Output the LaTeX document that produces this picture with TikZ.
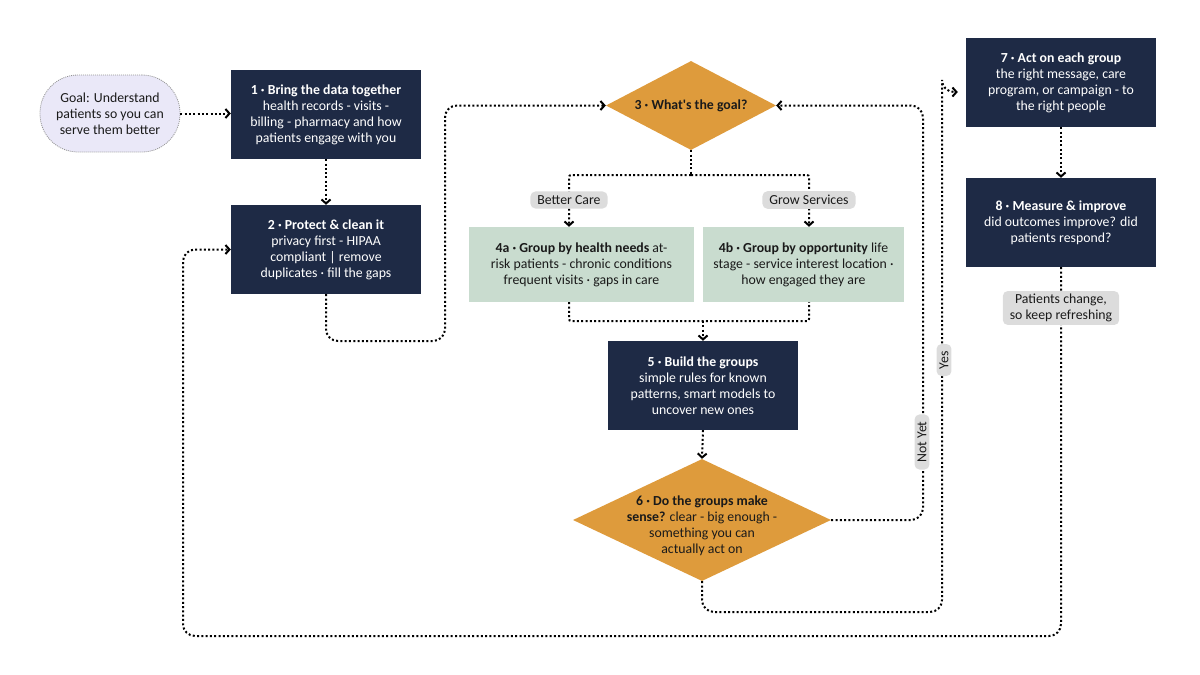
\documentclass[tikz,border=0pt]{standalone}
\usepackage{fontspec}
\setmainfont{Carlito}
\usetikzlibrary{arrows.meta,shapes.geometric}
\definecolor{navy}{HTML}{1E2A45}
\definecolor{ochre}{HTML}{DE9B3C}
\definecolor{sage}{HTML}{C9DCCF}
\definecolor{lav}{HTML}{EAE8F8}
\definecolor{lblgray}{HTML}{DCDCDC}
\definecolor{ink}{HTML}{1A1A1A}
\tikzset{
  txt/.style={font=\fontsize{13.8}{16}\selectfont, align=center},
  navybox/.style={txt, fill=navy, text=white, minimum width=190pt, minimum height=89pt, inner sep=2pt},
  sagebox/.style={txt, fill=sage, text=ink, minimum height=75pt, inner sep=2pt},
  decision/.style={shape=diamond, fill=ochre, inner sep=0pt},
  lbl/.style={txt, fill=lblgray, rounded corners=5pt, text=ink, inner xsep=7pt, inner ysep=4pt},
  conn/.style={draw=black, line width=2pt, dash pattern=on 2pt off 2.3pt, rounded corners=12pt,
    -{Straight Barb[length=4pt,width=9pt,line width=2pt]}},
  connplain/.style={draw=black, line width=2pt, dash pattern=on 2pt off 2.3pt, rounded corners=12pt},
}
\begin{document}
\begin{tikzpicture}[x=1pt,y=-1pt]
\useasboundingbox (0,0) rectangle (1200,675);

% goal
\node[txt, fill=lav, draw=gray!85, dash pattern=on 1pt off 1pt, line width=0.8pt,
  rounded corners=38pt, minimum width=140pt, minimum height=77pt, inner sep=0pt, text=ink]
  (goal) at (110,113.5) {Goal: Understand\\patients so you can\\serve them better};

% boxes
\node[navybox] (b1) at (326,114.5) {\textbf{1 · Bring the data together}\\health records - visits -\\billing - pharmacy and how\\patients engage with you};
\node[navybox] (b2) at (326,249.5) {\textbf{2 · Protect \& clean it}\\privacy first - HIPAA\\compliant | remove\\duplicates · fill the gaps};

\node[decision, minimum width=170pt, minimum height=89pt] (d3) at (691,105.5) {};
\node[txt, text=ink] (t3) at (d3.center) {\textbf{3 · What\textquotesingle s the goal?}};

\node[sagebox, minimum width=225pt] (b4a) at (581.5,264.5) {\textbf{4a · Group by health needs} at-\\risk patients - chronic conditions\\frequent visits · gaps in care};
\node[sagebox, minimum width=201pt] (b4b) at (803.5,264.5) {\textbf{4b · Group by opportunity} life\\stage - service interest location ·\\how engaged they are};

\node[navybox] (b5) at (703,385.5) {\textbf{5 · Build the groups}\\simple rules for known\\patterns, smart models to\\uncover new ones};

\node[decision, minimum width=258pt, minimum height=122pt] (d6) at (702,520) {};
\node[txt, text=ink] (t6) at (702,526) {\textbf{6 · Do the groups make}\\\textbf{sense?} clear - big enough -\\something you can\\actually act on};

\node[navybox] (b7) at (1061,82.5) {\textbf{7 · Act on each group}\\the right message, care\\program, or campaign - to\\the right people};
\node[navybox] (b8) at (1061,222.5) {\textbf{8 · Measure \& improve}\\did outcomes improve? did\\patients respond?};

% coordinates
\coordinate (c1) at (445,341);
\coordinate (j1) at (691,175);
\coordinate (j2) at (703,321);
\coordinate (c2) at (923,105.5);
\coordinate (c3) at (942,612);
\coordinate (c4) at (942,92);
\coordinate (c5) at (183,636);
\coordinate (l1) at (569,200);
\coordinate (l2) at (809,200);

% connectors
\draw[conn] (goal.east) -- (goal.east -| b1.west);
\draw[conn] (b1.south) -- (b2.north);
\draw[conn] (b2.south) |- (c1) |- (d3.west);
\draw[connplain] (d3.south) -- (j1);
\draw[conn, rounded corners=2pt] (j1) -| (l1 |- b4a.north);
\draw[conn, rounded corners=2pt] (j1) -| (l2 |- b4b.north);
\draw[connplain, rounded corners=2pt] (l1 |- b4a.south) |- (j2) -| (l2 |- b4b.south);
\draw[conn] (j2) -- (b5.north);
\draw[conn] (b5.south) -- (d6.north);
\draw[conn] (d6.east) -| (c2) -- (d3.east);
\draw[conn, shorten >=8pt] (d6.south) |- (c3) |- (c4) -- (c4 -| b7.west);
\draw[conn] (b7.south) -- (b8.north);
\draw[conn] (b8.south) |- (c5) |- (b2.west);

% labels
\node[lbl] (lb1) at (l1) {Better Care};
\node[lbl] (lb2) at (l2) {Grow Services};
\node[lbl, rotate=90, inner ysep=3pt] (lnot) at (922,442) {Not Yet};
\node[lbl, rotate=90, inner ysep=3pt] (lyes) at (944,360) {Yes};
\node[lbl, inner ysep=3pt] (lpat) at (1061,308) {Patients change,\\so keep refreshing};
\end{tikzpicture}
\end{document}
